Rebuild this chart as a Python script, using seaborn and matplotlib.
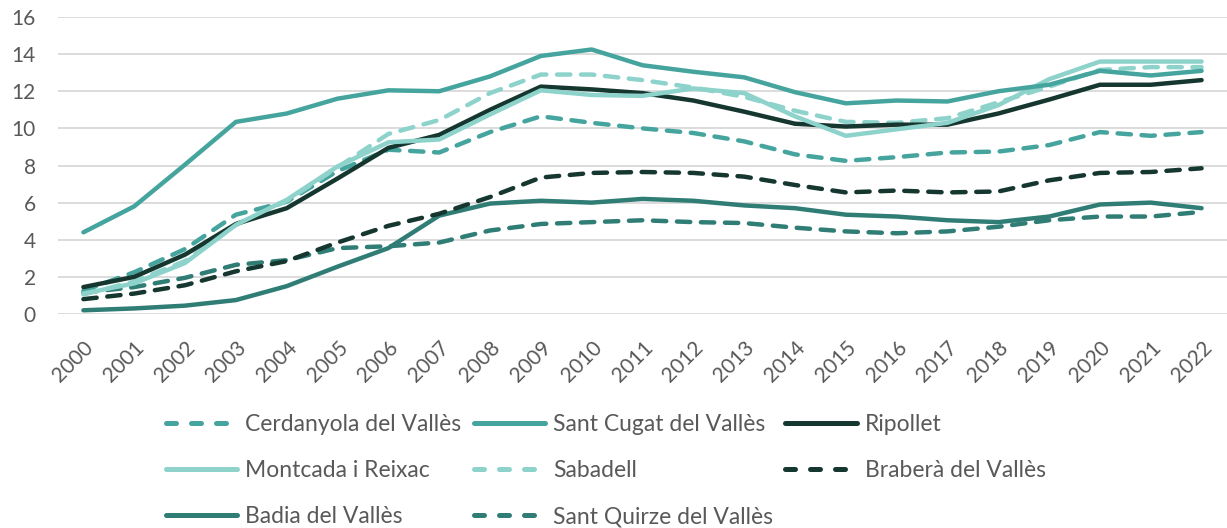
import matplotlib
matplotlib.use("Agg")
import matplotlib.pyplot as plt
from matplotlib.lines import Line2D
import seaborn as sns
import pandas as pd

### data
years = list(range(2000, 2023))

cerdanyola = [1.25, 2.25, 3.5, 5.35, 6.05, 7.7, 8.85, 8.7, 9.8, 10.65, 10.3, 10.0, 9.75, 9.3, 8.6,
              8.25, 8.45, 8.7, 8.75, 9.1, 9.8, 9.6, 9.8]
sant_cugat = [4.4, 5.8, 8.05, 10.35, 10.8, 11.6, 12.05, 12.0, 12.8, 13.9, 14.25, 13.4, 13.05, 12.75, 11.95,
              11.35, 11.5, 11.45, 12.0, 12.35, 13.1, 12.85, 13.1]
ripollet = [1.45, 2.0, 3.2, 4.85, 5.7, 7.3, 8.95, 9.65, 11.0, 12.25, 12.1, 11.9, 11.5, 10.9, 10.25,
            10.1, 10.2, 10.2, 10.8, 11.55, 12.35, 12.35, 12.6]
montcada = [1.1, 1.65, 2.75, 4.8, 6.15, 7.95, 9.25, 9.4, 10.75, 12.05, 11.8, 11.75, 12.15, 11.9, 10.65,
            9.6, 9.95, 10.3, 11.25, 12.65, 13.6, 13.6, 13.6]
sabadell = [1.05, 1.75, 2.85, 4.8, 6.1, 7.9, 9.7, 10.45, 11.9, 12.9, 12.9, 12.6, 12.2, 11.7, 10.95,
            10.35, 10.3, 10.55, 11.4, 12.25, 13.15, 13.3, 13.3]
brabera = [0.8, 1.1, 1.55, 2.3, 2.85, 3.85, 4.75, 5.4, 6.3, 7.35, 7.6, 7.65, 7.6, 7.4, 6.95,
           6.55, 6.65, 6.55, 6.6, 7.2, 7.6, 7.65, 7.85]
badia = [0.2, 0.3, 0.45, 0.75, 1.5, 2.55, 3.55, 5.3, 5.95, 6.1, 6.0, 6.2, 6.1, 5.85, 5.7,
         5.35, 5.25, 5.05, 4.95, 5.25, 5.9, 6.0, 5.7]
sant_quirze = [1.15, 1.45, 1.95, 2.65, 2.9, 3.55, 3.65, 3.85, 4.5, 4.85, 4.95, 5.05, 4.95, 4.9, 4.65,
               4.45, 4.35, 4.45, 4.7, 5.05, 5.25, 5.25, 5.5]

names = ["Cerdanyola del Vallès", "Sant Cugat del Vallès", "Ripollet", "Montcada i Reixac",
         "Sabadell", "Braberà del Vallès", "Badia del Vallès", "Sant Quirze del Vallès"]
series = [cerdanyola, sant_cugat, ripollet, montcada, sabadell, brabera, badia, sant_quirze]

### styles
teal = "#45A59E"
dark = "#15372F"
light = "#8DD3CB"
mid = "#2F7D75"
colors = {
    "Cerdanyola del Vallès": teal,
    "Sant Cugat del Vallès": teal,
    "Ripollet": dark,
    "Montcada i Reixac": light,
    "Sabadell": light,
    "Braberà del Vallès": dark,
    "Badia del Vallès": mid,
    "Sant Quirze del Vallès": mid,
}
dash = (3.0, 2.4)
dashes = {
    "Cerdanyola del Vallès": dash,
    "Sant Cugat del Vallès": "",
    "Ripollet": "",
    "Montcada i Reixac": "",
    "Sabadell": dash,
    "Braberà del Vallès": dash,
    "Badia del Vallès": "",
    "Sant Quirze del Vallès": dash,
}

rows = []
for name, vals in zip(names, series):
    for y, v in zip(years, vals):
        rows.append({"year": y, "value": v, "municipi": name})
df = pd.DataFrame(rows)

sns.set_style("white")
plt.rcParams["font.family"] = ["Lato", "DejaVu Sans"]

fig = plt.figure(figsize=(12.27, 5.28), dpi=100)
ax = fig.add_axes([58 / 1227, (528 - 314) / 528, 1169 / 1227, 297 / 528])

# draw order: back to front roughly like the reference
order = ["Sant Quirze del Vallès", "Badia del Vallès", "Braberà del Vallès", "Cerdanyola del Vallès",
         "Sabadell", "Ripollet", "Montcada i Reixac", "Sant Cugat del Vallès"]
sns.lineplot(data=df, x="year", y="value", hue="municipi", style="municipi",
             hue_order=order, style_order=order, palette=colors, dashes=dashes,
             linewidth=3.2, legend=False, ax=ax)
for ln in ax.get_lines():
    ln.set_dash_capstyle("round")
    ln.set_solid_capstyle("round")

ax.set_xlim(1999.5, 2022.5)
ax.set_ylim(0, 16)
ax.set_yticks(range(0, 17, 2))
ax.set_xticks(years)
ax.set_xticklabels([str(y) for y in years], rotation=45, ha="right", rotation_mode="anchor")
ax.tick_params(axis="both", length=0, labelsize=15, labelcolor="#595959")
ax.tick_params(axis="x", pad=17)
ax.tick_params(axis="y", pad=16)
ax.grid(axis="y", color="#D9D9D9", linewidth=1.3)
ax.set_axisbelow(True)
for s in ax.spines.values():
    s.set_visible(False)
ax.set_xlabel("")
ax.set_ylabel("")

# legend, filled column by column to give the reference's row layout
leg_order = ["Cerdanyola del Vallès", "Montcada i Reixac", "Badia del Vallès",
             "Sant Cugat del Vallès", "Sabadell", "Sant Quirze del Vallès",
             "Ripollet", "Braberà del Vallès"]
handles = []
for n in leg_order:
    h = Line2D([0], [0], color=colors[n], linewidth=3.6,
               linestyle=(0, (2.0, 3.0)) if dashes[n] else "-",
               dash_capstyle="round", solid_capstyle="round")
    handles.append(h)
fig.legend(handles, leg_order, loc="upper left", bbox_to_anchor=(166 / 1227, 1 - 414 / 528),
           ncol=3, frameon=False, fontsize=16.5, labelcolor="#595959",
           handlelength=3.1, handletextpad=0.35, columnspacing=0.55, labelspacing=1.1,
           borderaxespad=0, borderpad=0)

fig.savefig("out.png", dpi=100)
